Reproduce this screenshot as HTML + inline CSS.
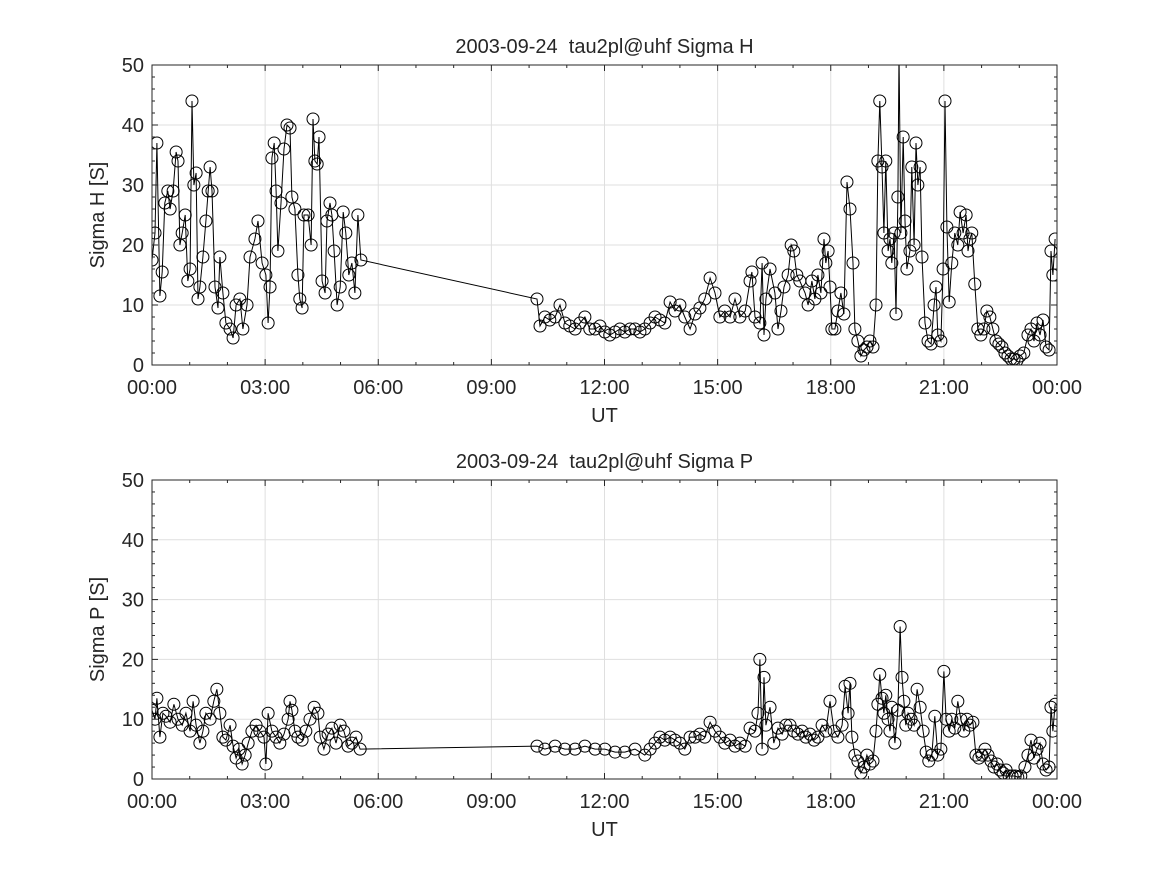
<!DOCTYPE html>
<html><head><meta charset="utf-8"><style>
body{margin:0;background:#fff;}
svg text{font-family:"Liberation Sans","DejaVu Sans",sans-serif;fill:#262626;white-space:pre;}
</style></head><body>
<svg id="chart" width="1167" height="875" viewBox="0 0 1167 875" xmlns="http://www.w3.org/2000/svg"></svg>
<script>
// ---- data: hours (UT) and values ----
const hTimes = [0,.08,.13,.21,.27,.34,.42,.48,.56,.64,.69,.74,.80,.88,.95,1.01,1.06,1.11,1.17,1.22,1.27,1.35,1.43,1.49,1.54,1.59,1.67,1.75,1.80,1.88,1.96,2.07,2.15,2.23,2.33,2.41,2.52,2.60,2.73,2.81,2.92,3.02,3.08,3.13,3.18,3.24,3.29,3.34,3.42,3.50,3.58,3.66,3.71,3.79,3.87,3.92,3.98,4.03,4.14,4.22,4.27,4.32,4.38,4.43,4.51,4.59,4.64,4.72,4.77,4.83,4.91,4.99,5.07,5.14,5.22,5.30,5.38,5.46,5.54,
10.21,10.29,10.42,10.55,10.69,10.82,10.95,11.08,11.22,11.35,11.48,11.61,11.75,11.88,12.01,12.14,12.28,12.41,12.54,12.68,12.81,12.94,13.07,13.21,13.34,13.47,13.60,13.74,13.87,14.00,14.13,14.27,14.40,14.53,14.66,14.80,14.93,15.06,15.19,15.33,15.46,15.59,15.73,15.86,15.91,15.99,16.12,16.18,16.23,16.28,16.39,16.52,16.60,16.68,16.76,16.87,16.95,17.02,17.10,17.18,17.32,17.40,17.50,17.58,17.66,17.74,17.82,17.87,17.93,17.98,18.03,18.11,18.19,18.27,18.35,18.43,18.51,18.59,18.64,18.72,18.80,18.88,18.96,19.04,19.12,19.20,19.25,19.30,19.36,19.41,19.46,19.52,19.57,19.62,19.68,19.73,19.78,19.81,19.86,19.92,19.97,20.02,20.10,20.15,20.21,20.26,20.31,20.37,20.42,20.50,20.58,20.66,20.74,20.79,20.84,20.92,20.98,21.03,21.08,21.14,21.21,21.29,21.37,21.43,21.51,21.59,21.64,21.69,21.74,21.82,21.90,21.98,22.06,22.14,22.22,22.30,22.38,22.46,22.54,22.62,22.70,22.78,22.86,22.94,23.02,23.12,23.23,23.31,23.39,23.47,23.55,23.63,23.71,23.79,23.84,23.89,23.95];
const sigmaH = [17.5,22,37,11.5,15.5,27,29,26,29,35.5,34,20,22,25,14,16,44,30,32,11,13,18,24,29,33,29,13,9.5,18,12,7,6,4.5,10,11,6,10,18,21,24,17,15,7,13,34.5,37,29,19,27,36,40,39.5,28,26,15,11,9.5,25,25,20,41,34,33.5,38,14,12,24,27,25,19,10,13,25.5,22,15,17,12,25,17.5,
11,6.5,8,7.5,8,10,7,6.5,6,7,8,6,6,6.5,5.5,5,5.5,6,5.5,6,6,5.5,6,7,8,7.5,7,10.5,9,10,8,6,8.5,9.5,11,14.5,12,8,9,8,11,8,9,14,15.5,8,7,17,5,11,16,12,6,9,13,15,20,19,15,14,12,10,14,11,15,12,21,17,19,13,6,6,9,12,8.5,30.5,26,17,6,4,1.5,2.5,3,4,3,10,34,44,33,22,34,19,21,17,22,8.5,28,52,22,38,24,16,19,33,20,37,30,33,18,7,4,3.5,10,13,5,4,16,44,23,10.5,17,22,20,25.5,22,25,19,21,22,13.5,6,5,6,9,8,6,4,3.5,3,2,1.5,1,1,0.8,1.5,2,5,6,4,7,5,7.5,3,2.5,19,15,21];
const pTimes = [0,.08,.13,.21,.29,.37,.48,.58,.69,.80,.90,1.01,1.09,1.17,1.27,1.35,1.43,1.54,1.64,1.72,1.80,1.88,1.96,2.07,2.15,2.23,2.31,2.39,2.47,2.55,2.65,2.76,2.86,2.97,3.02,3.08,3.18,3.29,3.39,3.50,3.61,3.66,3.71,3.79,3.87,3.98,4.08,4.19,4.30,4.40,4.46,4.56,4.67,4.77,4.88,4.99,5.09,5.20,5.30,5.41,5.52,
10.21,10.42,10.69,10.95,11.22,11.48,11.75,12.01,12.28,12.54,12.81,13.07,13.21,13.34,13.47,13.60,13.74,13.87,14.00,14.13,14.27,14.40,14.53,14.66,14.80,14.93,15.06,15.19,15.33,15.46,15.59,15.73,15.86,15.99,16.07,16.12,16.18,16.23,16.28,16.39,16.49,16.60,16.71,16.81,16.92,17.02,17.13,17.24,17.34,17.45,17.56,17.66,17.77,17.87,17.98,18.09,18.19,18.30,18.38,18.46,18.51,18.56,18.64,18.72,18.80,18.88,18.96,19.04,19.12,19.20,19.25,19.30,19.36,19.41,19.46,19.52,19.57,19.62,19.70,19.78,19.84,19.89,19.94,19.99,20.05,20.13,20.21,20.29,20.37,20.45,20.53,20.60,20.68,20.76,20.84,20.92,21.00,21.06,21.14,21.21,21.29,21.37,21.45,21.53,21.61,21.69,21.77,21.85,21.93,22.01,22.09,22.17,22.25,22.33,22.41,22.49,22.57,22.65,22.73,22.81,22.89,22.96,23.04,23.15,23.23,23.31,23.39,23.47,23.55,23.63,23.71,23.79,23.84,23.89,23.95];
const sigmaP = [11.5,10,13.5,7,11,10.5,9.5,12.5,10,9,11,8,13,9,6,8,11,10,13,15,11,7,6.5,9,5.5,3.5,5,2.5,4,6,8,9,8,7,2.5,11,8,7,6,7.5,10,13,11.5,8,7,6.5,8,10,12,11,7,5,7.5,8.5,6,9,8,5.5,6,7,5,
5.5,5,5.5,5,5,5.5,5,5,4.5,4.5,5,4,5,6,7,6.5,7,6.5,6,5,7,7,7.5,7,9.5,8,7,6,6.5,5.5,6,5.5,8.5,8,11,20,5,17,9,12,6,8.5,7.5,9,9,8,7.5,8,7,7.5,6.5,7,9,8,13,8,7,9,15.5,11,16,7,4,3,1,2,4,2.5,3,8,12.5,17.5,13.5,11,14,10,8,12,6,11.5,25.5,17,13,9,11,10,9,15,12,8,4.5,3,4,10.5,4,5,18,10,8,10,8.5,13,10,8,10,9,9.5,4,3.5,4,5,4,3,2,2.5,1.5,1,1.5,0.5,0.5,0.5,0.3,0.5,2,4,6.5,3.5,5,6,2.5,1.5,2,12,8,12.5];
const xTickLabels = ["00:00","03:00","06:00","09:00","12:00","15:00","18:00","21:00","00:00"];
const yTickLabels = ["0","10","20","30","40","50"];

const NS="http://www.w3.org/2000/svg";
const svg=document.getElementById('chart');
function mk(tag,attrs,parent){const e=document.createElementNS(NS,tag);for(const k in attrs)e.setAttribute(k,attrs[k]);(parent||svg).appendChild(e);return e;}

function panel(id,top,bottom,title,ylab,times,vals){
  const L=152,R=1057;
  const xs=h=>L+(R-L)*h/24;
  const ys=v=>bottom-(bottom-top)*v/50;
  const g=mk('g',{});
  
  
  mk('rect',{x:L,y:top,width:R-L,height:bottom-top,fill:'#fff'},g);
  for(let i=0;i<xTickLabels.length;i++){const x=xs(i*3);
    mk('line',{x1:x,x2:x,y1:top,y2:bottom,stroke:'#dfdfdf','stroke-width':1},g);}
  for(let i=0;i<yTickLabels.length;i++){const y=ys(+yTickLabels[i]);
    mk('line',{x1:L,x2:R,y1:y,y2:y,stroke:'#dfdfdf','stroke-width':1},g);}
  const cid='clip-'+id;
  const cp=mk('clipPath',{id:cid},g);mk('rect',{x:L,y:top,width:R-L,height:bottom-top},cp);
  const dg=mk('g',{'clip-path':'url(#'+cid+')'},g);
  const line=mk('polyline',{points:times.map((t,i)=>xs(t).toFixed(1)+','+ys(vals[i]).toFixed(1)).join(' '),fill:'none',stroke:'#000','stroke-width':1},dg);
  
  
  times.forEach((t,i)=>{
    const c=mk('circle',{cx:xs(t),cy:ys(vals[i]),r:6,fill:'none',stroke:'#000','stroke-width':1},dg);
    
    
  });
  mk('rect',{x:L,y:top,width:R-L,height:bottom-top,fill:'none',stroke:'#262626','stroke-width':1},g);
  for(let h=0;h<=24;h++){const x=xs(h);const len=h%3?3:6;
    mk('line',{x1:x,x2:x,y1:bottom,y2:bottom-len,stroke:'#262626'},g);
    mk('line',{x1:x,x2:x,y1:top,y2:top+len,stroke:'#262626'},g);}
  for(let v=0;v<=50;v+=2){const y=ys(v);const len=v%10?3:6;
    mk('line',{x1:L,x2:L+len,y1:y,y2:y,stroke:'#262626'},g);
    mk('line',{x1:R,x2:R-len,y1:y,y2:y,stroke:'#262626'},g);}
  xTickLabels.forEach((lab,i)=>{
    const t=mk('text',{x:xs(i*3),y:bottom+29,'text-anchor':'middle','font-size':20},g);t.textContent=lab;
    
    
  });
  yTickLabels.forEach(lab=>{
    const t=mk('text',{x:L-8,y:ys(+lab)+7,'text-anchor':'end','font-size':20},g);t.textContent=lab;
    
    
  });
  const tt=mk('text',{x:(L+R)/2,y:top-12,'text-anchor':'middle','font-size':20},g);tt.textContent=title;
  
  
  const xl=mk('text',{x:(L+R)/2,y:bottom+57,'text-anchor':'middle','font-size':20},g);xl.textContent='UT';
  
  
  const yl=mk('text',{x:0,y:0,'text-anchor':'middle','font-size':20,transform:'translate(104,'+((top+bottom)/2)+') rotate(-90)'},g);yl.textContent=ylab;
  
  
}
panel('sigma-h',65,365,'2003-09-24  tau2pl@uhf Sigma H','Sigma H [S]',hTimes,sigmaH);
panel('sigma-p',480,779,'2003-09-24  tau2pl@uhf Sigma P','Sigma P [S]',pTimes,sigmaP);
</script>
</body></html>
